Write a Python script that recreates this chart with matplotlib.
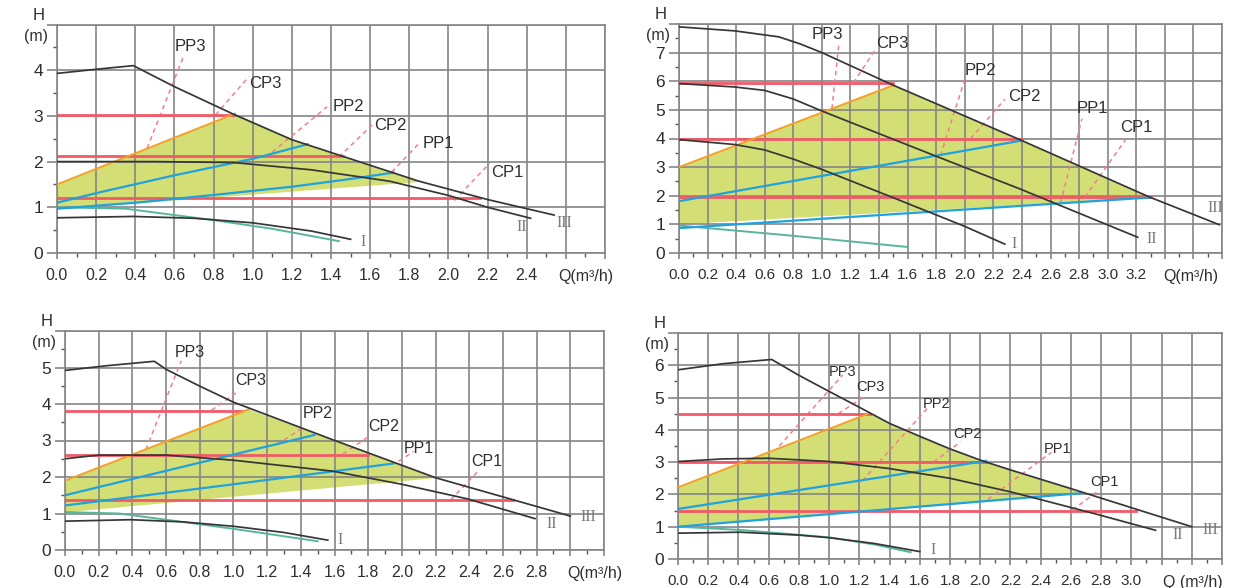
import numpy as np
import matplotlib
matplotlib.use('Agg')
import matplotlib.pyplot as plt

plt.rcParams['font.family'] = ['Liberation Sans', 'DejaVu Sans']

# ---------------- panel 1 (top left)
p1_q3 = [0, 0.2, 0.39, 0.6, 0.9, 1.2, 1.6, 1.85, 2.2, 2.4, 2.54]
p1_h3 = [3.93, 4.02, 4.1, 3.64, 3.04, 2.48, 1.92, 1.57, 1.17, 0.97, 0.83]
p1_q2 = [0, 0.5, 0.9, 1.3, 1.7, 2.0, 2.2, 2.42]
p1_h2 = [2.0, 2.0, 1.98, 1.82, 1.57, 1.26, 1.0, 0.76]
p1_q1 = [0, 0.39, 0.7, 1.0, 1.3, 1.5]
p1_h1 = [0.77, 0.8, 0.76, 0.66, 0.48, 0.3]
p1_qt = [0, 0.35, 0.6, 0.8, 1.1, 1.44]
p1_ht = [1.0, 0.97, 0.83, 0.72, 0.53, 0.26]
p1_cp_h = [3.03, 2.12, 1.21]
p1_cp_end = [0.9, 1.46, 2.16]
p1_ppu_q = [0, 0.22, 0.6, 1.0, 1.28]
p1_ppu_h = [1.1, 1.33, 1.7, 2.06, 2.38]
p1_ppl_q = [0, 0.4, 0.8, 1.2, 1.5, 1.72]
p1_ppl_h = [0.97, 1.1, 1.27, 1.45, 1.62, 1.76]
p1_or_q = [0, 0.91]
p1_or_h = [1.5, 3.05]
p1_lo_q = [0, 1.87]
p1_lo_h = [0.95, 1.56]
p1_lead_q = [(0.46, 0.65), (0.81, 0.98), (1.1, 1.38), (1.44, 1.61), (1.71, 1.85), (2.03, 2.21)]
p1_lead_h = [(2.29, 4.34), (3.02, 3.86), (2.21, 3.2), (2.1, 2.8), (1.77, 2.4), (1.15, 1.96)]
p1_lab_q = [0.6, 0.98, 1.41, 1.62, 1.87, 2.22]
p1_lab_h = [4.52, 3.71, 3.2, 2.8, 2.4, 1.76]
p1_rom_q = [1.55, 2.35, 2.55]
p1_rom_h = [0.25, 0.57, 0.66]

# ---------------- panel 2 (top right)
p2_q3 = [0, 0.39, 0.7, 0.85, 1.0, 1.5, 2.38, 3.29, 3.78]
p2_h3 = [7.9, 7.76, 7.55, 7.3, 7.0, 5.86, 3.97, 1.96, 0.99]
p2_q2 = [0, 0.39, 0.6, 0.8, 1.0, 1.8, 2.38, 3.21]
p2_h2 = [5.92, 5.8, 5.68, 5.38, 4.96, 3.38, 2.25, 0.55]
p2_q1 = [0, 0.39, 0.6, 0.8, 1.0, 1.5, 2.0, 2.28]
p2_h1 = [3.96, 3.79, 3.6, 3.28, 2.92, 1.93, 0.93, 0.31]
p2_qt = [0, 0.8, 1.6]
p2_ht = [0.96, 0.6, 0.21]
p2_cp_h = [5.95, 3.97, 1.95]
p2_cp_end = [1.5, 2.4, 3.3]
p2_ppu_q = [0, 2.4]
p2_ppu_h = [1.81, 3.93]
p2_ppl_q = [0, 3.3]
p2_ppl_h = [0.87, 1.94]
p2_or_q = [0, 1.5]
p2_or_h = [3.0, 5.86]
p2_lo_q = [0, 3.32]
p2_lo_h = [1.0, 1.93]
p2_lead_q = [(1.07, 1.12), (1.22, 1.37), (1.83, 2.0), (2.04, 2.28), (2.67, 2.82), (2.84, 3.13)]
p2_lead_h = [(5.04, 7.35), (5.94, 7.08), (3.4, 6.07), (3.99, 5.37), (1.75, 4.69), (1.95, 3.99)]
p2_lab_q = [0.93, 1.38, 2.0, 2.3, 2.78, 3.09]
p2_lab_h = [7.64, 7.32, 6.36, 5.48, 5.05, 4.4]
p2_rom_q = [2.33, 3.27, 3.7]
p2_rom_h = [0.3, 0.5, 1.57]

# ---------------- panel 3 (bottom left)
p3_q3 = [0, 0.25, 0.53, 0.6, 0.8, 1.0, 1.59, 2.2, 3.0]
p3_h3 = [4.92, 5.05, 5.17, 4.95, 4.49, 4.05, 3.02, 1.98, 0.93]
p3_q2 = [0, 0.2, 0.6, 1.0, 1.59, 2.0, 2.39, 2.79]
p3_h2 = [2.5, 2.6, 2.6, 2.46, 2.16, 1.8, 1.4, 0.86]
p3_q1 = [0, 0.39, 0.7, 1.0, 1.3, 1.56]
p3_h1 = [0.79, 0.83, 0.77, 0.65, 0.48, 0.27]
p3_qt = [0, 0.32, 0.6, 1.0, 1.5]
p3_ht = [1.04, 1.0, 0.83, 0.58, 0.24]
p3_cp_h = [3.82, 2.6, 1.37]
p3_cp_end = [1.05, 1.8, 2.66]
p3_ppu_q = [0, 1.48]
p3_ppu_h = [1.5, 3.15]
p3_ppl_q = [0, 1.0, 1.95]
p3_ppl_h = [1.22, 1.8, 2.37]
p3_or_q = [0, 1.09]
p3_or_h = [1.9, 3.85]
p3_lo_q = [0, 2.2]
p3_lo_h = [1.03, 1.97]
p3_lead_q = [(0.48, 0.69), (0.87, 1.02), (1.26, 1.4), (1.65, 1.8), (1.98, 2.07), (2.29, 2.46)]
p3_lead_h = [(2.75, 5.18), (3.83, 4.32), (2.88, 3.32), (2.63, 3.1), (2.43, 2.7), (1.37, 2.2)]
p3_lab_q = [0.65, 1.01, 1.41, 1.8, 2.01, 2.41]
p3_lab_h = [5.4, 4.64, 3.74, 3.38, 2.79, 2.43]
p3_rom_q = [1.62, 2.86, 3.06]
p3_rom_h = [0.27, 0.72, 0.9]

# ---------------- panel 4 (bottom right)
p4_q3 = [0, 0.3, 0.62, 0.8, 1.0, 1.2, 1.4, 1.6, 1.8, 2.02, 2.2, 2.6, 3.0, 3.4]
p4_h3 = [5.86, 6.05, 6.18, 5.69, 5.19, 4.7, 4.2, 3.8, 3.41, 3.03, 2.76, 2.18, 1.59, 1.0]
p4_q2 = [0, 0.3, 0.6, 1.0, 1.4, 1.8, 2.2, 2.4, 2.8, 3.16]
p4_h2 = [3.02, 3.1, 3.12, 3.02, 2.8, 2.5, 2.08, 1.84, 1.35, 0.89]
p4_q1 = [0, 0.41, 0.8, 1.0, 1.3, 1.6]
p4_h1 = [0.8, 0.83, 0.74, 0.66, 0.48, 0.23]
p4_qt = [0, 0.41, 0.8, 1.0, 1.3, 1.54]
p4_ht = [1.0, 0.9, 0.75, 0.67, 0.45, 0.21]
p4_cp_h = [4.5, 3.0, 1.5]
p4_cp_end = [1.27, 2.04, 3.03]
p4_ppu_q = [0, 2.04]
p4_ppu_h = [1.55, 3.04]
p4_ppl_q = [0, 2.67]
p4_ppl_h = [1.0, 2.04]
p4_or_q = [0, 1.27]
p4_or_h = [2.22, 4.52]
p4_lo_q = [0, 2.67]
p4_lo_h = [1.0, 2.03]
p4_lead_q = [(0.67, 1.09), (1.06, 1.23), (1.22, 1.66), (1.69, 1.87), (2.05, 2.47), (2.61, 2.77)]
p4_lead_h = [(3.5, 5.7), (4.5, 5.02), (2.42, 4.72), (3.0, 3.63), (1.85, 3.3), (1.52, 2.07)]
p4_lab_q = [1.0, 1.18, 1.62, 1.82, 2.42, 2.73]
p4_lab_h = [5.8, 5.33, 4.8, 3.86, 3.4, 2.4]
p4_rom_q = [1.67, 3.27, 3.47]
p4_rom_h = [0.28, 0.75, 0.9]

lead_names = ['PP3', 'CP3', 'PP2', 'CP2', 'PP1', 'CP1']
roman = ['I', 'II', 'III']

GRID = '#858585'
CURVE = '#363636'
RED = '#f25a68'
BLUE = '#1fa2dd'
ORANGE = '#f4a02a'
FILL = '#d3df75'
TEAL = '#58b59e'
LEAD = '#f47f8c'
TXT = '#2e2e2e'


def draw_panel(ax, xmax, ymax, xlab_max, qtext, qtext_x, d):
    # green operating area: orange edge, curve III, lower edge
    tip_q, tip_h = d['lo_q'][-1], d['lo_h'][-1]
    xs = [d['or_q'][0], d['or_q'][1]]
    ys = [d['or_h'][0], d['or_h'][1]]
    for q, h in zip(d['q3'], d['h3']):
        if d['or_q'][1] < q < tip_q:
            xs.append(q); ys.append(h)
    xs += [tip_q, d['lo_q'][0]]
    ys += [tip_h, d['lo_h'][0]]
    ax.fill(xs, ys, color=FILL, lw=0, zorder=1)

    ax.plot(d['or_q'], d['or_h'], color=ORANGE, lw=1.4, zorder=2.7)
    for h, e in zip(d['cp_h'], d['cp_end']):
        ax.plot([0, e], [h, h], color=RED, lw=2.0, zorder=2.5)
    ax.plot(d['ppu_q'], d['ppu_h'], color=BLUE, lw=1.6, zorder=2.6)
    ax.plot(d['ppl_q'], d['ppl_h'], color=BLUE, lw=1.6, zorder=2.6)
    ax.plot(d['qt'], d['ht'], color=TEAL, lw=1.4, zorder=2.5)
    for q, h in [(d['q1'], d['h1']), (d['q2'], d['h2']), (d['q3'], d['h3'])]:
        ax.plot(q, h, color=CURVE, lw=1.25, zorder=3)

    for (qa, qb), (ha, hb) in zip(d['lead_q'], d['lead_h']):
        ax.plot([qa, qb], [ha, hb], color=LEAD, lw=1.1, ls=(0, (3, 2.5)), zorder=2.4)
    for name, q, h in zip(lead_names, d['lab_q'], d['lab_h']):
        ax.text(q, h, name, fontsize=d['fs'], color=TXT, ha='left', va='center', zorder=4)
    for name, q, h in zip(roman, d['rom_q'], d['rom_h']):
        ax.text(q, h, name, fontsize=11.5, color='#7a7a7a', ha='left', va='center',
                family=['Liberation Serif', 'DejaVu Serif'], zorder=4)

    ax.set_xlim(0, xmax)
    ax.set_ylim(0, ymax)
    xt = np.arange(0, xmax + 0.001, 0.2)
    ax.set_xticks(xt, [f'{v:.1f}' if v <= xlab_max + 1e-6 else '' for v in xt])
    ax.set_xticks(np.arange(0.1, xmax, 0.2), minor=True)
    yt = list(range(0, ymax + 1))
    ax.set_yticks(yt, [str(v) if v < ymax else '' for v in yt])
    ax.set_yticks(np.arange(0.5, ymax, 1.0), minor=True)
    ax.grid(which='major', color=GRID, lw=1.2)
    ax.set_axisbelow('line')
    for s in ax.spines.values():
        s.set_color(GRID)
        s.set_linewidth(1.2)
    ax.tick_params(axis='x', which='major', length=4, width=1.2, color=GRID, pad=7,
                   labelsize=d['tfs'], labelcolor=TXT)
    ax.tick_params(axis='y', which='major', length=7, width=1.2, color=GRID, pad=3,
                   labelsize=12.5, labelcolor=TXT)
    ax.tick_params(which='minor', length=3, width=1.0, color='#555555')

    ax.annotate(qtext, xy=(qtext_x, 0), xycoords=('data', 'axes fraction'),
                xytext=(0, -17), textcoords='offset points', fontsize=11.5, color=TXT,
                ha='left', va='center', annotation_clip=False)
    ax.annotate('H', xy=(0, 1), xycoords='axes fraction', xytext=(-13, 6.5),
                textcoords='offset points', fontsize=12, color=TXT, ha='center', va='center')
    ax.annotate('(m)', xy=(0, 1), xycoords='axes fraction', xytext=(-15, -8.5),
                textcoords='offset points', fontsize=11.5, color=TXT, ha='center', va='center')


def pack(p):
    g = globals()
    keys = ['q3', 'h3', 'q2', 'h2', 'q1', 'h1', 'qt', 'ht', 'cp_h', 'cp_end', 'ppu_q', 'ppu_h',
            'ppl_q', 'ppl_h', 'or_q', 'or_h', 'lo_q', 'lo_h', 'lead_q', 'lead_h',
            'lab_q', 'lab_h', 'rom_q', 'rom_h']
    return {k: g[f'{p}_{k}'] for k in keys}


fig = plt.figure(figsize=(12.44, 5.88), dpi=100)
W, H = 1244, 588


def box(x0, x1, ytop, ybot):
    return [x0 / W, (H - ybot) / H, (x1 - x0) / W, (ybot - ytop) / H]


ax1 = fig.add_axes(box(57, 605, 24.5, 253))
ax2 = fig.add_axes(box(679, 1222, 24, 253))
ax3 = fig.add_axes(box(65, 604, 331, 550))
ax4 = fig.add_axes(box(678, 1222, 333, 559))

d1 = pack('p1'); d1['fs'] = 12; d1['tfs'] = 11.5
d2 = pack('p2'); d2['fs'] = 12; d2['tfs'] = 11
d3 = pack('p3'); d3['fs'] = 11.5; d3['tfs'] = 11.5
d4 = pack('p4'); d4['fs'] = 10.5; d4['tfs'] = 11

draw_panel(ax1, 2.8, 5, 2.4, 'Q(m³/h)', 2.56, d1)
draw_panel(ax2, 3.8, 8, 3.2, 'Q(m³/h)', 3.39, d2)
draw_panel(ax3, 3.2, 6, 2.8, 'Q(m³/h)', 2.98, d3)
draw_panel(ax4, 3.6, 7, 3.0, 'Q (m³/h)', 3.21, d4)

fig.savefig('out.png', dpi=100, facecolor='white')
